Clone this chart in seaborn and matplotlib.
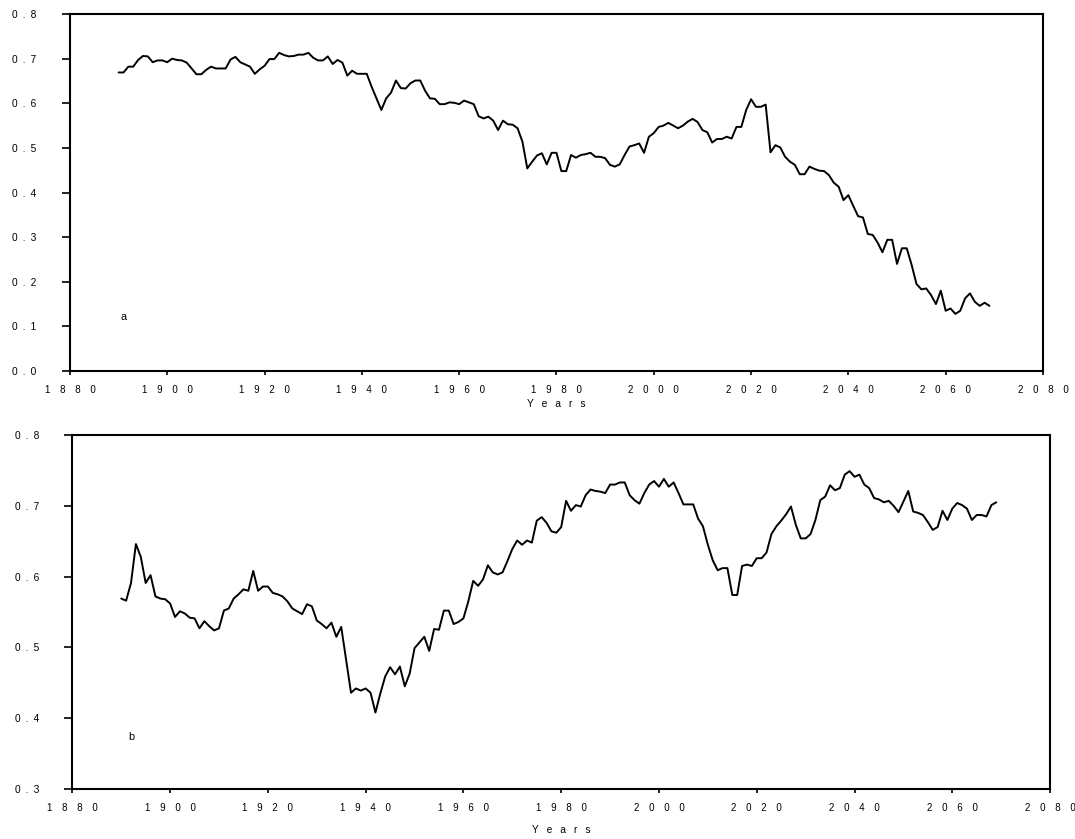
import matplotlib
matplotlib.use("Agg")
import matplotlib.pyplot as plt
import pandas as pd
import seaborn as sns

# Annual values, 1890-2069
years = list(range(1890, 2070))

series_a = [
    0.669, 0.669, 0.682, 0.682, 0.697, 0.706, 0.705, 0.692, 0.696, 0.696,
    0.692, 0.700, 0.697, 0.696, 0.691, 0.678, 0.665, 0.665, 0.675, 0.682,
    0.678, 0.678, 0.678, 0.698, 0.704, 0.692, 0.687, 0.682, 0.666, 0.676,
    0.684, 0.699, 0.699, 0.713, 0.708, 0.705, 0.706, 0.709, 0.709, 0.713,
    0.702, 0.696, 0.696, 0.705, 0.688, 0.697, 0.691, 0.662, 0.673, 0.666,
    0.666, 0.666, 0.637, 0.611, 0.585, 0.611, 0.624, 0.651, 0.634, 0.633,
    0.645, 0.651, 0.651, 0.628, 0.611, 0.610, 0.598, 0.598, 0.602, 0.601,
    0.598, 0.606, 0.602, 0.598, 0.571, 0.566, 0.570, 0.561, 0.540, 0.561,
    0.553, 0.552, 0.544, 0.514, 0.454, 0.469, 0.483, 0.488, 0.463, 0.489,
    0.489, 0.448, 0.448, 0.484, 0.478, 0.484, 0.486, 0.489, 0.480, 0.480,
    0.477, 0.462, 0.458, 0.463, 0.484, 0.503, 0.506, 0.510, 0.489, 0.525,
    0.533, 0.547, 0.550, 0.556, 0.550, 0.544, 0.550, 0.559, 0.565, 0.558,
    0.540, 0.535, 0.512, 0.520, 0.520, 0.525, 0.521, 0.547, 0.547, 0.585,
    0.609, 0.592, 0.592, 0.597, 0.490, 0.506, 0.501, 0.480, 0.469, 0.462,
    0.441, 0.441, 0.458, 0.453, 0.449, 0.448, 0.439, 0.422, 0.413, 0.383,
    0.394, 0.370, 0.347, 0.344, 0.307, 0.305, 0.288, 0.266, 0.294, 0.294,
    0.240, 0.275, 0.275, 0.238, 0.195, 0.183, 0.185, 0.170, 0.150, 0.180,
    0.135, 0.140, 0.128, 0.135, 0.163, 0.174, 0.155, 0.146, 0.153, 0.146,
]

series_b = [
    0.569, 0.566, 0.591, 0.646, 0.628, 0.591, 0.602, 0.572, 0.569, 0.568,
    0.562, 0.543, 0.551, 0.548, 0.542, 0.541, 0.527, 0.537, 0.530, 0.524,
    0.527, 0.552, 0.555, 0.569, 0.575, 0.582, 0.580, 0.608, 0.580, 0.586,
    0.586, 0.577, 0.575, 0.572, 0.565, 0.555, 0.551, 0.547, 0.561, 0.558,
    0.538, 0.533, 0.527, 0.535, 0.515, 0.529, 0.482, 0.436, 0.442, 0.439,
    0.442, 0.436, 0.408, 0.435, 0.459, 0.472, 0.462, 0.473, 0.445, 0.463,
    0.499, 0.507, 0.515, 0.495, 0.526, 0.525, 0.552, 0.552, 0.533, 0.536,
    0.541, 0.565, 0.594, 0.587, 0.596, 0.616, 0.606, 0.603, 0.606, 0.622,
    0.639, 0.651, 0.645, 0.651, 0.648, 0.679, 0.684, 0.676, 0.664, 0.662,
    0.670, 0.707, 0.693, 0.701, 0.699, 0.715, 0.723, 0.721, 0.720, 0.718,
    0.730, 0.730, 0.733, 0.733, 0.715, 0.708, 0.703, 0.718, 0.730, 0.735,
    0.727, 0.738, 0.727, 0.733, 0.718, 0.702, 0.702, 0.702, 0.682, 0.671,
    0.645, 0.623, 0.609, 0.612, 0.612, 0.574, 0.574, 0.615, 0.617, 0.615,
    0.626, 0.626, 0.634, 0.660, 0.671, 0.679, 0.688, 0.699, 0.673, 0.654,
    0.654, 0.660, 0.680, 0.708, 0.713, 0.729, 0.722, 0.725, 0.744, 0.749,
    0.741, 0.744, 0.730, 0.725, 0.711, 0.709, 0.705, 0.707, 0.700, 0.691,
    0.706, 0.721, 0.692, 0.690, 0.687, 0.677, 0.666, 0.670, 0.693, 0.680,
    0.696, 0.704, 0.701, 0.696, 0.680, 0.687, 0.687, 0.685, 0.701, 0.705,
]

x_ticks = [1880, 1900, 1920, 1940, 1960, 1980, 2000, 2020, 2040, 2060, 2080]
y_ticks_a = [0.0, 0.1, 0.2, 0.3, 0.4, 0.5, 0.6, 0.7, 0.8]
y_ticks_b = [0.3, 0.4, 0.5, 0.6, 0.7, 0.8]
x_title = "Years"

sns.set_theme(style="ticks")
plt.rcParams["font.family"] = ["Liberation Sans", "DejaVu Sans"]

df = pd.DataFrame({"year": years, "a": series_a, "b": series_b})

FS = 7.3
FS_X = 7.0
EM = "\u2003"
EN = "\u2002"


def spaced(text, sep):
    """Letter-spaced text, as used on every label of this figure."""
    return sep.join(list(text))


fig = plt.figure(figsize=(10.75, 8.39), dpi=100)
fig.patch.set_facecolor("white")
ax_a = fig.add_axes([0.0651, 0.5578, 0.9051, 0.4255])
ax_b = fig.add_axes([0.0673, 0.0596, 0.9095, 0.4219])

# (axes, column, y ticks, y limits, panel-letter position, x-title pad)
panels = [
    (ax_a, "a", y_ticks_a, (0.0, 0.8), (1891, 0.12), 3),
    (ax_b, "b", y_ticks_b, (0.3, 0.8), (1892, 0.373), 9),
]

for ax, col, yt, ylim, lab_pos, xpad in panels:
    sns.lineplot(data=df, x="year", y=col, ax=ax, color="black",
                 linewidth=1.4, estimator=None)
    ax.set_xlim(1880, 2080)
    ax.set_ylim(*ylim)
    ax.set_xticks(x_ticks)
    ax.set_xticklabels([spaced(str(t), EM) for t in x_ticks])
    ax.set_yticks(yt)
    ax.set_yticklabels([spaced(f"{v:.1f}", EN) for v in yt])
    ax.tick_params(axis="x", direction="out", length=3, width=1.2,
                   pad=7, labelsize=FS_X, colors="black")
    ax.tick_params(axis="y", direction="out", length=6, width=1.2,
                   pad=18, labelsize=FS, colors="black")
    for sp in ax.spines.values():
        sp.set_visible(True)
        sp.set_color("black")
        sp.set_linewidth(1.5)
    ax.set_ylabel("")
    ax.set_xlabel(spaced(x_title, EN + " "), fontsize=FS, labelpad=xpad,
                  color="black")
    ax.set_facecolor("white")
    ax.text(lab_pos[0], lab_pos[1], col, fontsize=FS + 0.5,
            ha="center", va="center", color="black")

fig.savefig("out.png", dpi=100, facecolor="white")
